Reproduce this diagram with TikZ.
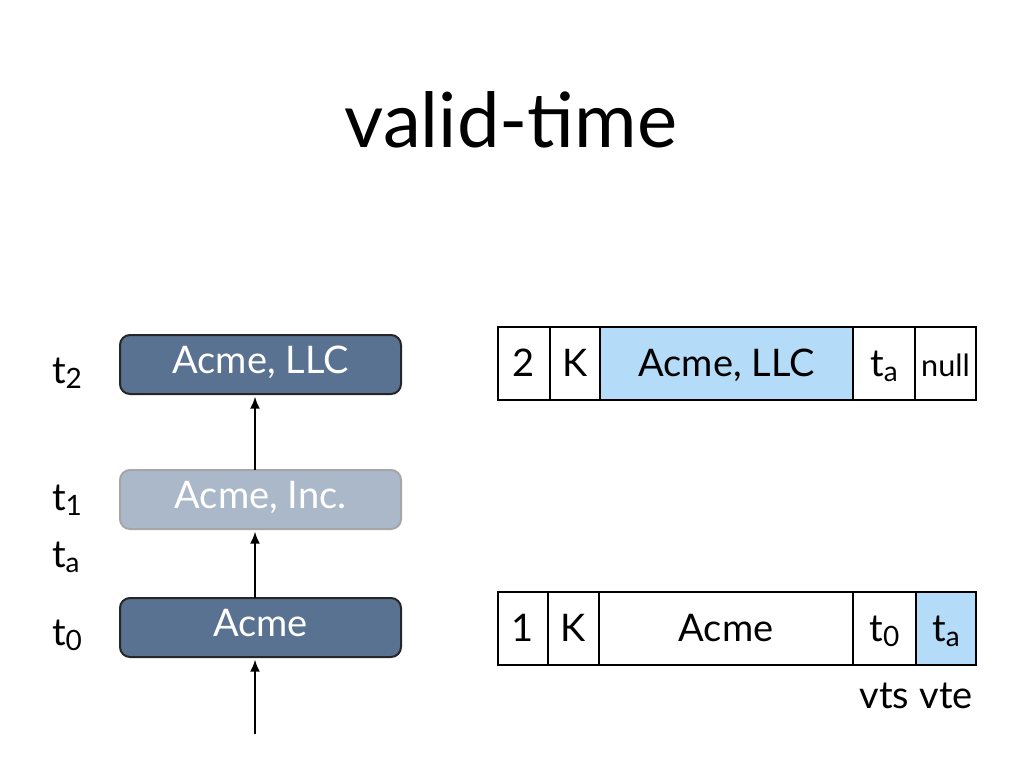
\documentclass[tikz,border=0pt]{standalone}
\usepackage{fontspec}
\setmainfont{Lato}
\usetikzlibrary{positioning,arrows.meta}
\definecolor{slatefill}{HTML}{5A7291}
\definecolor{slatepale}{HTML}{AAB8CA}
\definecolor{cellblue}{HTML}{B4DBF7}
\newcommand\tsub[1]{{\fontsize{21}{24}\selectfont\raisebox{-0.2em}{#1}}}

\begin{document}
\begin{tikzpicture}[x=0.75pt, y=-0.75pt,
    every node/.style={font=\fontsize{28.5}{33}\selectfont, inner sep=0pt, outer sep=0pt},
    version/.style={rectangle, rounded corners=7.5pt, line width=1.5pt, draw=black!85,
                    fill=slatefill, text=white, minimum width=210.75pt, minimum height=44.25pt,
                    text height=20pt, text depth=6pt},
    oldversion/.style={version, draw=black!35, fill=slatepale},
    cell/.style={rectangle, draw, line width=1.4pt, minimum height=54.75pt,
                 text height=23pt, text depth=4pt},
    arr/.style={-{Latex[length=9pt,width=7.5pt]}, line width=1.5pt}
  ]
  \useasboundingbox (0,0) rectangle (1024,768);
  \node[font=\fontsize{57}{66}\selectfont, anchor=base] (title) at (511,147) {valid-time};

  % timeline of versions
  \node[version] (llc) at (260.5,364.5) {Acme, LLC};
  \node[oldversion] (inc) at (260.5,499.5) {Acme, Inc.};
  \node[version] (acme) at (260.5,627.5) {Acme};

  \node[anchor=base west] (ttwo) at (52,383) {t\tsub{2}};
  \node[anchor=base west] (tone) at (52,510) {t\tsub{1}};
  \node[anchor=base west] (tact) at (52,567) {t\tsub{a}};
  \node[anchor=base west] (tzero) at (52,645) {t\tsub{0}};

  \coordinate (origin) at (255,734);
  \draw[arr, shorten >=2pt] (origin) -- (origin |- acme.south);
  \draw[arr, shorten >=2pt] (origin |- acme.north) -- (origin |- inc.south);
  \draw[arr, shorten >=2pt] (origin |- inc.north) -- (origin |- llc.south);

  % row 2
  \node[cell, anchor=west, minimum width=39pt] (rtwoid) at (498,363.5) {2};
  \node[cell, minimum width=37.5pt, right=0pt of rtwoid] (rtwokey) {K};
  \node[cell, minimum width=189.75pt, fill=cellblue, right=0pt of rtwokey] (rtwoname) {Acme, LLC};
  \node[cell, minimum width=46.5pt, right=0pt of rtwoname] (rtwovts) {t\tsub{a}};
  \node[cell, minimum width=45.75pt, font=\fontsize{23}{27}\selectfont, right=0pt of rtwovts] (rtwovte) {null};

  % row 1
  \node[cell, anchor=west, minimum width=37.5pt] (roneid) at (498,628.5) {1};
  \node[cell, minimum width=38.25pt, right=0pt of roneid] (ronekey) {K};
  \node[cell, minimum width=190.5pt, right=0pt of ronekey] (ronename) {Acme};
  \node[cell, minimum width=47.25pt, right=0pt of ronename] (ronevts) {t\tsub{0}};
  \node[cell, minimum width=45pt, fill=cellblue, right=0pt of ronevts] (ronevte) {t\tsub{a}};

  \node[anchor=base] (vtslabel) at (ronevts.south |- 0,708) {vts};
  \node[anchor=base] (vtelabel) at (ronevte.south |- 0,708) {vte};
\end{tikzpicture}
\end{document}
